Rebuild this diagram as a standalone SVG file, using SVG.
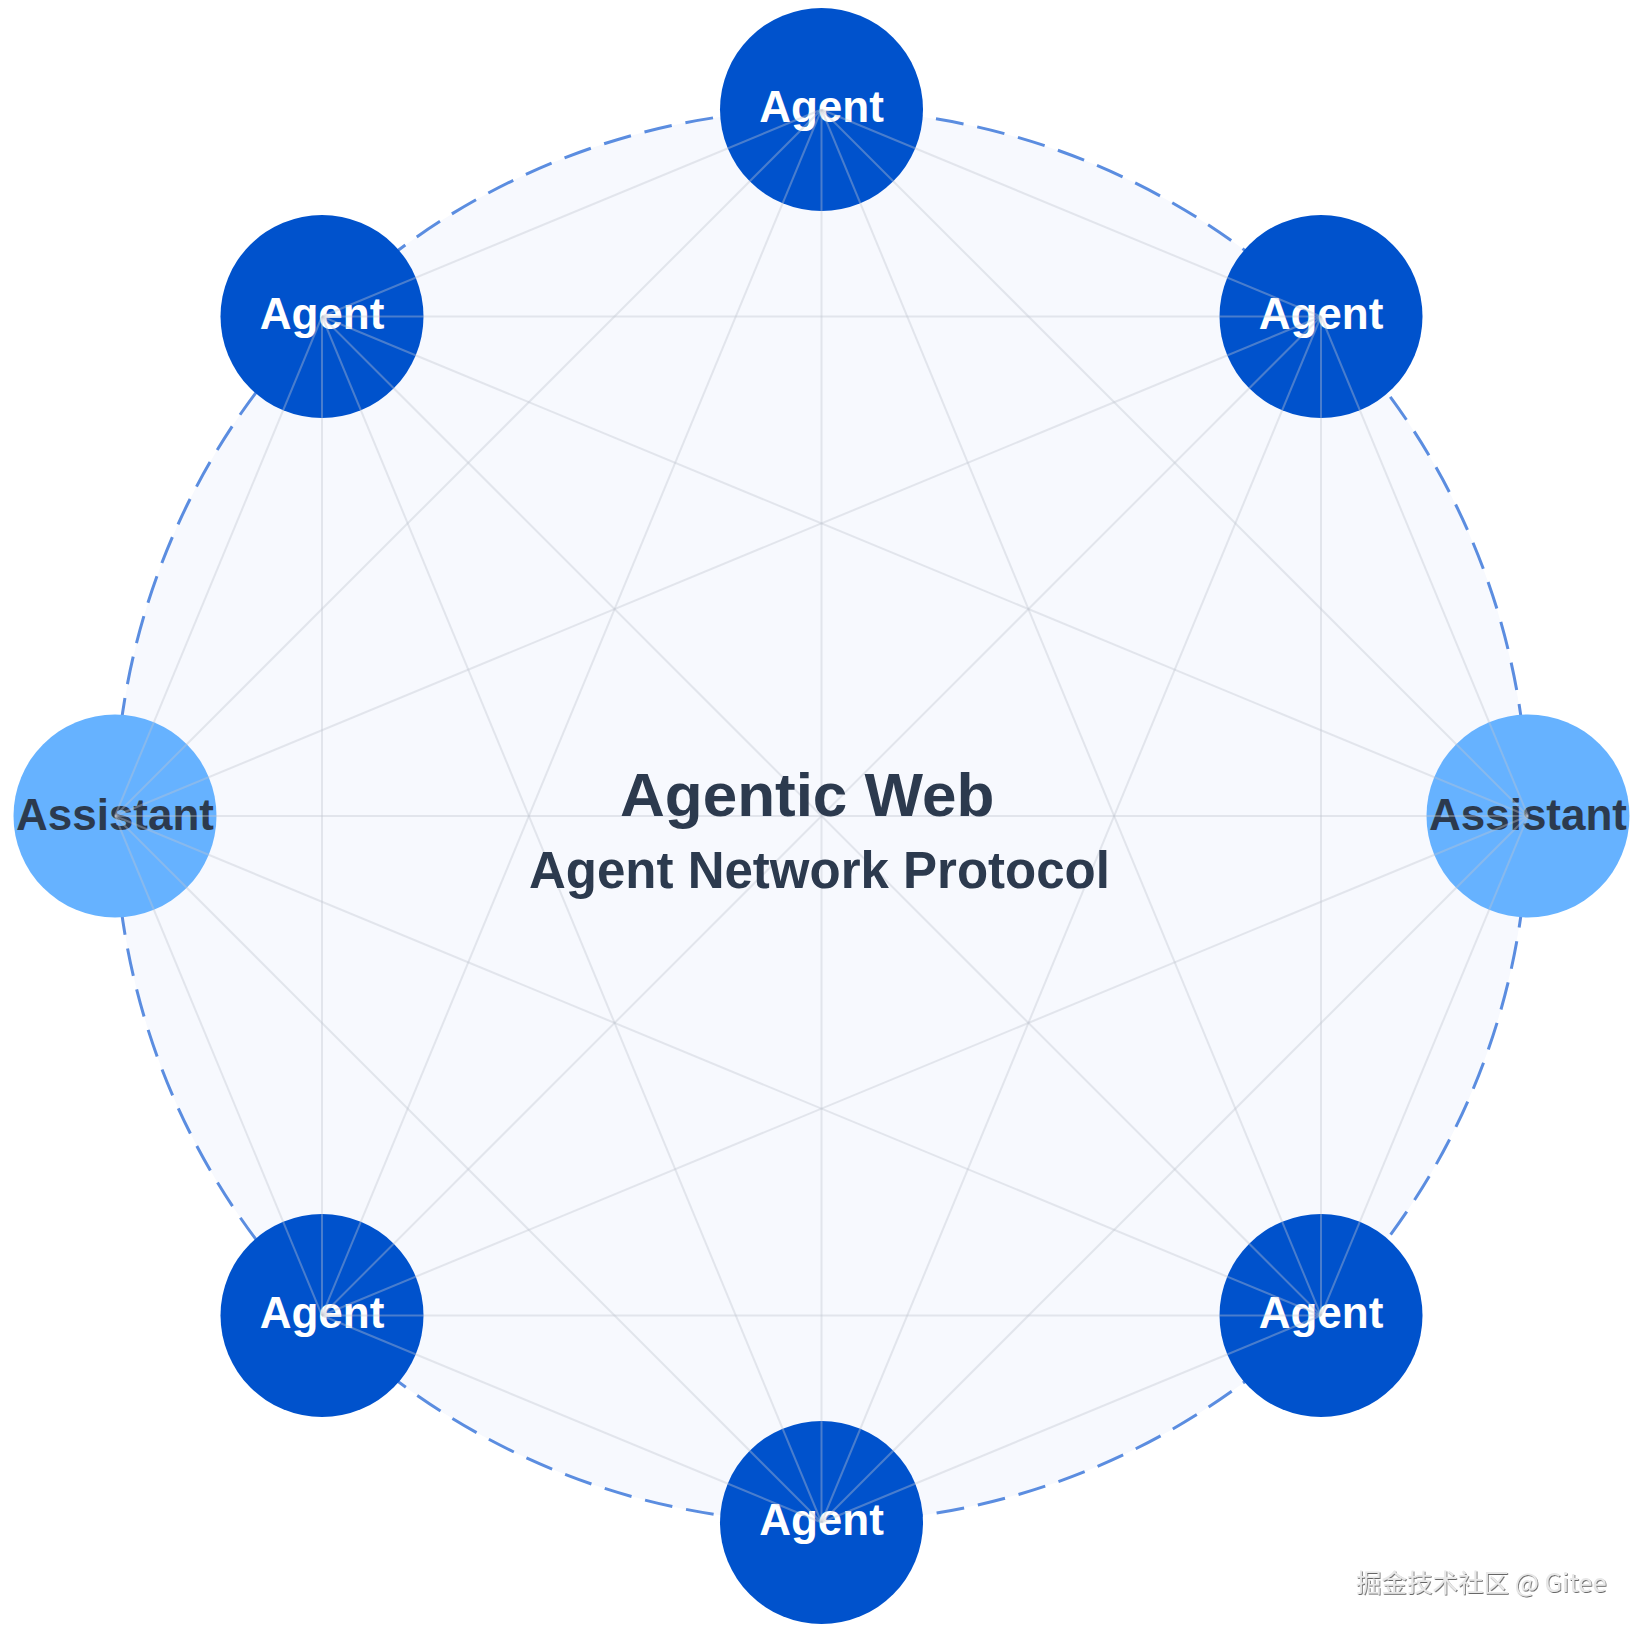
<svg xmlns="http://www.w3.org/2000/svg" width="1644" height="1634" viewBox="0 0 1644 1634">
<defs>
<style>
.agent{fill:#0052cc}
.assistant{fill:#66b2ff}
.lbl{font-family:"Liberation Sans",Arial,sans-serif;font-weight:bold;font-size:44px;text-anchor:middle}
.lbl-agent{fill:#ffffff}
.lbl-assistant{fill:#2c3a4e}
.title{font-family:"Liberation Sans",Arial,sans-serif;font-weight:bold;fill:#2c3a4e}
#connectors line{stroke:#c0c6d0;stroke-opacity:0.38;stroke-width:2}
.wm{font-family:"Noto Sans CJK SC","Noto Sans",sans-serif;font-size:25.5px;fill:#e8e8e8}
</style>
<filter id="emboss" x="-5%" y="-20%" width="110%" height="140%">
<feDropShadow dx="0.8" dy="1" stdDeviation="0.5" flood-color="#555555" flood-opacity="0.9"/>
</filter>
</defs>
<rect x="0" y="0" width="1644" height="1634" fill="#ffffff"/>
<g id="ring">
<circle cx="821.5" cy="816" r="706.5" fill="#f7f9fe" stroke="#5b8de0" stroke-width="3" stroke-dasharray="28 14"/>
</g>
<g id="node-top"><circle class="agent" cx="821.5" cy="109.5" r="101.5"/><text class="lbl lbl-agent" x="821.5" y="121.5">Agent</text></g>
<g id="node-top-right"><circle class="agent" cx="1321" cy="316.5" r="101.5"/><text class="lbl lbl-agent" x="1321" y="328.5">Agent</text></g>
<g id="node-right"><circle class="assistant" cx="1528" cy="816" r="101.5"/><text class="lbl lbl-assistant" x="1528" y="830">Assistant</text></g>
<g id="node-bottom-right"><circle class="agent" cx="1321" cy="1315.5" r="101.5"/><text class="lbl lbl-agent" x="1321" y="1327.5">Agent</text></g>
<g id="node-bottom"><circle class="agent" cx="821.5" cy="1522.5" r="101.5"/><text class="lbl lbl-agent" x="821.5" y="1534.5">Agent</text></g>
<g id="node-bottom-left"><circle class="agent" cx="322" cy="1315.5" r="101.5"/><text class="lbl lbl-agent" x="322" y="1327.5">Agent</text></g>
<g id="node-left"><circle class="assistant" cx="115" cy="816" r="101.5"/><text class="lbl lbl-assistant" x="115" y="830">Assistant</text></g>
<g id="node-top-left"><circle class="agent" cx="322" cy="316.5" r="101.5"/><text class="lbl lbl-agent" x="322" y="328.5">Agent</text></g>
<g id="connectors">
<line x1="821.5" y1="109.5" x2="1321" y2="316.5"/>
<line x1="821.5" y1="109.5" x2="1528" y2="816"/>
<line x1="821.5" y1="109.5" x2="1321" y2="1315.5"/>
<line x1="821.5" y1="109.5" x2="821.5" y2="1522.5"/>
<line x1="821.5" y1="109.5" x2="322" y2="1315.5"/>
<line x1="821.5" y1="109.5" x2="115" y2="816"/>
<line x1="821.5" y1="109.5" x2="322" y2="316.5"/>
<line x1="1321" y1="316.5" x2="1528" y2="816"/>
<line x1="1321" y1="316.5" x2="1321" y2="1315.5"/>
<line x1="1321" y1="316.5" x2="821.5" y2="1522.5"/>
<line x1="1321" y1="316.5" x2="322" y2="1315.5"/>
<line x1="1321" y1="316.5" x2="115" y2="816"/>
<line x1="1321" y1="316.5" x2="322" y2="316.5"/>
<line x1="1528" y1="816" x2="1321" y2="1315.5"/>
<line x1="1528" y1="816" x2="821.5" y2="1522.5"/>
<line x1="1528" y1="816" x2="322" y2="1315.5"/>
<line x1="1528" y1="816" x2="115" y2="816"/>
<line x1="1528" y1="816" x2="322" y2="316.5"/>
<line x1="1321" y1="1315.5" x2="821.5" y2="1522.5"/>
<line x1="1321" y1="1315.5" x2="322" y2="1315.5"/>
<line x1="1321" y1="1315.5" x2="115" y2="816"/>
<line x1="1321" y1="1315.5" x2="322" y2="316.5"/>
<line x1="821.5" y1="1522.5" x2="322" y2="1315.5"/>
<line x1="821.5" y1="1522.5" x2="115" y2="816"/>
<line x1="821.5" y1="1522.5" x2="322" y2="316.5"/>
<line x1="322" y1="1315.5" x2="115" y2="816"/>
<line x1="322" y1="1315.5" x2="322" y2="316.5"/>
<line x1="115" y1="816" x2="322" y2="316.5"/>
</g>
<g id="title">
<text class="title" x="620" y="816" font-size="62">Agentic Web</text>
<text class="title" x="529" y="888" font-size="51">Agent Network Protocol</text>
</g>
<g id="watermark">
<text class="wm" x="1356" y="1592" filter="url(#emboss)">掘金技术社区 @ Gitee</text>
</g>
</svg>
